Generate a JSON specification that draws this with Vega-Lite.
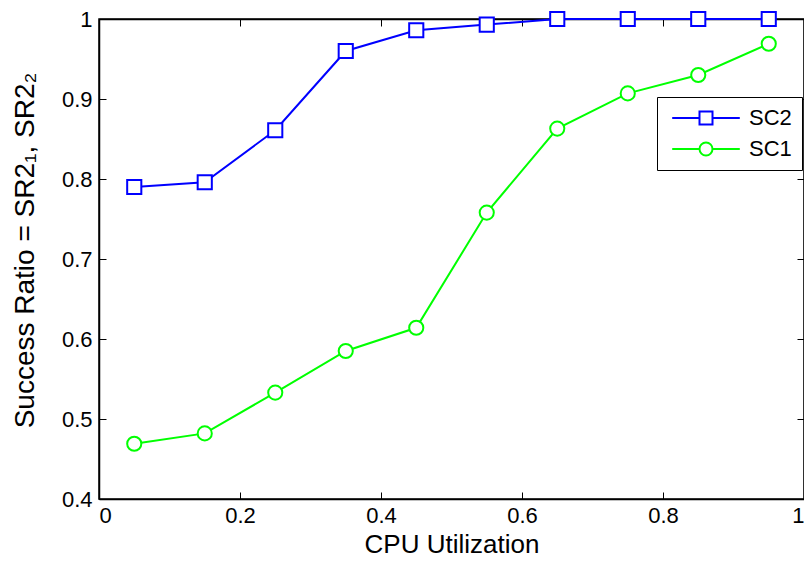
{
  "$schema": "https://vega.github.io/schema/vega-lite/v6.json",
  "width": 705,
  "height": 480,
  "autosize": "none",
  "padding": {"left": 99, "top": 19, "right": 0, "bottom": 64},
  "background": "white",
  "config": {
    "font": "Liberation Sans",
    "view": {"stroke": "black", "strokeWidth": 1.5},
    "axis": {
      "grid": false,
      "domainColor": "black",
      "domainWidth": 1.5,
      "tickColor": "black",
      "tickWidth": 1,
      "labelColor": "black",
      "titleColor": "black",
      "labelFont": "Liberation Sans",
      "titleFont": "Liberation Sans",
      "labelFontSize": 22,
      "titleFontSize": 26,
      "titleFontWeight": "normal"
    }
  },
  "data": {
    "values": [
      {"u": 0.05, "sr": 0.790, "series": "SC2"},
      {"u": 0.15, "sr": 0.796, "series": "SC2"},
      {"u": 0.25, "sr": 0.861, "series": "SC2"},
      {"u": 0.35, "sr": 0.960, "series": "SC2"},
      {"u": 0.45, "sr": 0.986, "series": "SC2"},
      {"u": 0.55, "sr": 0.993, "series": "SC2"},
      {"u": 0.65, "sr": 1.000, "series": "SC2"},
      {"u": 0.75, "sr": 1.000, "series": "SC2"},
      {"u": 0.85, "sr": 1.000, "series": "SC2"},
      {"u": 0.95, "sr": 1.000, "series": "SC2"},
      {"u": 0.05, "sr": 0.469, "series": "SC1"},
      {"u": 0.15, "sr": 0.482, "series": "SC1"},
      {"u": 0.25, "sr": 0.533, "series": "SC1"},
      {"u": 0.35, "sr": 0.585, "series": "SC1"},
      {"u": 0.45, "sr": 0.614, "series": "SC1"},
      {"u": 0.55, "sr": 0.758, "series": "SC1"},
      {"u": 0.65, "sr": 0.863, "series": "SC1"},
      {"u": 0.75, "sr": 0.907, "series": "SC1"},
      {"u": 0.85, "sr": 0.930, "series": "SC1"},
      {"u": 0.95, "sr": 0.969, "series": "SC1"}
    ]
  },
  "resolve": {
    "axis": {"x": "independent", "y": "independent"},
    "scale": {"shape": "independent"},
    "legend": {"color": "independent", "shape": "independent"}
  },
  "layer": [
    {
      "mark": {"type": "line", "strokeWidth": 2, "clip": false},
      "encoding": {
        "x": {"field": "u", "type": "quantitative", "scale": {"domain": [0, 1]},
              "axis": {"title": "CPU Utilization", "values": [0, 0.2, 0.4, 0.6, 0.8, 1], "format": "~g", "tickSize": -7, "labelPadding": 13, "titlePadding": 5}},
        "y": {"field": "sr", "type": "quantitative", "scale": {"domain": [0.4, 1]},
              "axis": {"title": "Success Ratio = SR2₁, SR2₂", "titleFontSize": 28, "titleY": 231, "values": [0.4, 0.5, 0.6, 0.7, 0.8, 0.9, 1], "format": "~g", "tickSize": -7, "labelPadding": 14, "titlePadding": 22}},
        "color": {
          "field": "series", "type": "nominal",
          "scale": {"domain": ["SC2", "SC1"], "range": ["#0000ff", "#00ff00"]},
          "legend": null
        }
      }
    },
    {
      "mark": {"type": "point", "filled": false, "fill": "white", "fillOpacity": 1, "strokeWidth": 2, "opacity": 1, "clip": false},
      "encoding": {
        "x": {"field": "u", "type": "quantitative",
              "axis": {"orient": "top", "values": [0, 0.2, 0.4, 0.6, 0.8, 1], "labels": false, "title": null, "tickSize": -7}},
        "y": {"field": "sr", "type": "quantitative",
              "axis": {"orient": "right", "values": [0.4, 0.5, 0.6, 0.7, 0.8, 0.9, 1], "labels": false, "title": null, "tickSize": -7}},
        "color": {"field": "series", "type": "nominal", "legend": null},
        "shape": {"field": "series", "type": "nominal",
                  "scale": {"domain": ["SC2", "SC1"], "range": ["square", "circle"]}, "legend": null},
        "size": {"value": 200}
      }
    },
    {
      "mark": {"type": "point", "filled": false, "opacity": 0, "strokeWidth": 2, "clip": false},
      "encoding": {
        "x": {"field": "u", "type": "quantitative", "axis": null},
        "y": {"field": "sr", "type": "quantitative", "axis": null},
        "color": {
          "field": "series", "type": "nominal",
          "legend": {
            "title": null,
            "orient": "none",
            "legendX": 558,
            "legendY": 78,
            "strokeColor": "black",
            "fillColor": "white",
            "padding": 10,
            "labelFontSize": 22,
            "labelFont": "Liberation Sans",
            "labelColor": "black",
            "symbolSize": 169,
            "symbolStrokeWidth": 2,
            "symbolOpacity": 1,
            "symbolFillColor": "white",
            "rowPadding": 9,
            "labelOffset": 32,
            "symbolOffset": 28
          }
        },
        "shape": {
          "field": "series", "type": "nominal",
          "scale": {"domain": ["SC2", "SC1"], "range": ["M-5.2,0H-1M1,0H5.2M-1,-1H1V1H-1Z", "M-5.2,0H-1M1,0H5.2M-1,0A1,1 0 1,0 1,0A1,1 0 1,0 -1,0Z"]},
          "legend": {
            "title": null,
            "orient": "none",
            "legendX": 558,
            "legendY": 78,
            "strokeColor": "black",
            "fillColor": "white",
            "padding": 10,
            "labelFontSize": 22,
            "labelFont": "Liberation Sans",
            "labelColor": "black",
            "symbolSize": 169,
            "symbolStrokeWidth": 2,
            "symbolOpacity": 1,
            "symbolFillColor": "white",
            "rowPadding": 9,
            "labelOffset": 32,
            "symbolOffset": 28
          }
        },
        "size": {"value": 169}
      }
    }
  ]
}
